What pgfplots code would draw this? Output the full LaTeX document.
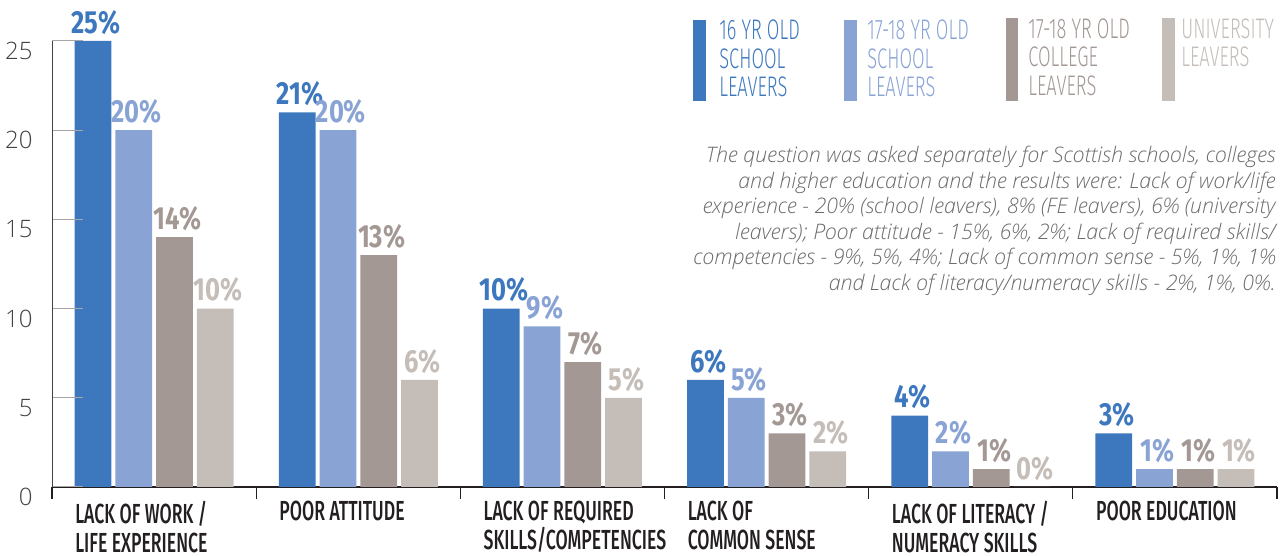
\documentclass[border=0pt]{standalone}
\usepackage{pgfplots}
\pgfplotsset{compat=1.18}
\usepackage{fontspec}
\setmainfont{Fira Sans}

\definecolor{cA}{HTML}{3D78BE}
\definecolor{cB}{HTML}{88A3D4}
\definecolor{cC}{HTML}{A39894}
\definecolor{cD}{HTML}{C4BDB8}
\definecolor{ink}{HTML}{231F20}
\definecolor{notegray}{HTML}{6B6B6B}

\IfFontExistsTF{Fira Sans Medium}
  {\newfontfamily\catfont{Fira Sans Medium}[FakeStretch=0.64]}
  {\newfontfamily\catfont{Fira Sans}[FakeStretch=0.64]}
\newfontfamily\valfamily{Fira Sans}[FakeStretch=0.8]
\newcommand\valfont{\valfamily\bfseries}
\IfFontExistsTF{Fira Sans Light}
  {\newfontfamily\legfont{Fira Sans Light}[FakeStretch=0.645]}
  {\newfontfamily\legfont{Fira Sans}[FakeStretch=0.645]}
\IfFontExistsTF{Open Sans Light}
  {\newfontfamily\tickfont{Open Sans Light}}
  {\newfontfamily\tickfont{Open Sans}}
\IfFontExistsTF{Open Sans Light Italic}
  {\newfontfamily\notefamily{Open Sans Light Italic}\newcommand\notefont{\notefamily}}
  {\newfontfamily\notefamily{Open Sans}\newcommand\notefont{\notefamily\itshape}}

\pgfplotsset{
  common/.style={
    at={(26pt,34.5pt)}, anchor=south west,
    scale only axis, width=612.5pt, height=223pt,
    xmin=-0.5, xmax=5.5, ymin=0, ymax=25,
    clip=false,
    axis lines=left,
    axis line style={-},
    tick align=inside,
    /pgf/number format/assume math mode=true,
  }
}

\begin{document}
\begin{tikzpicture}
\useasboundingbox (0,0) rectangle (643pt,278pt);
% main axis: bars, category labels, group separators
\begin{axis}[
  common,
  x axis line style={draw=ink, line width=0.75pt},
  y axis line style={draw=none},
  ybar, bar width=0.18,
  xtick={0,...,5},
  xticklabels={{LACK OF WORK /\\LIFE EXPERIENCE}, {POOR ATTITUDE}, {LACK OF REQUIRED\\SKILLS/COMPETENCIES}, {LACK OF\\COMMON SENSE}, {LACK OF LITERACY /\\NUMERACY SKILLS}, {POOR EDUCATION}},
  minor xtick={-0.5,0.5,...,5.5},
  major tick length=0pt,
  minor tick length=6pt,
  xtick style={draw=ink, line width=0.65pt},
  ytick=\empty,
  xticklabel style={font=\catfont\fontsize{13.8}{14.3}\selectfont, text=ink, anchor=north west, align=left, inner sep=0pt, xshift=-39.6pt, yshift=-6.8pt},
  nodes near coords={\pgfmathprintnumber{\pgfplotspointmeta}\%},
  nodes near coords style={font=\valfont\fontsize{16}{16}\selectfont, anchor=south, inner sep=0pt, xshift=1.5pt, yshift=3pt},
]
\addplot[fill=cA, draw=none, bar shift=-0.2994, nodes near coords style={text=cA}]
  coordinates {(0,25) (1,21) (2,10) (3,6) (4,4) (5,3)};
\addplot[fill=cB, draw=none, bar shift=-0.0998, nodes near coords style={text=cB}]
  coordinates {(0,20) (1,20) (2,9) (3,5) (4,2) (5,1)};
\addplot[fill=cC, draw=none, bar shift=0.0998, nodes near coords style={text=cC}]
  coordinates {(0,14) (1,13) (2,7) (3,3) (4,1) (5,1)};
\addplot[fill=cD, draw=none, bar shift=0.2994, nodes near coords style={text=cD}]
  coordinates {(0,10) (1,6) (2,5) (3,2) (4,0) (5,1)};
\end{axis}
% overlay axis: y axis line, short grey y ticks and labels
\begin{axis}[
  common,
  x axis line style={draw=none},
  y axis line style={draw=ink!85, line width=0.5pt},
  xtick=\empty,
  ytick={0,5,...,25},
  major tick length=15.5pt,
  ytick style={draw=black!35, line width=0.5pt},
  yticklabel style={font=\tickfont\fontsize{12}{12}\selectfont, text=ink!85, anchor=north east, inner sep=0pt, xshift=-9.5pt, yshift=-0.5pt},
]
\end{axis}

% legend
\fill[cA] (346.5pt,227.5pt) rectangle (353pt,268pt);
\fill[cB] (422pt,227.5pt) rectangle (428.5pt,268pt);
\fill[cC] (503pt,227.5pt) rectangle (509pt,269pt);
\fill[cD] (581pt,227.5pt) rectangle (587.5pt,269pt);
\begin{scope}[every node/.style={anchor=base west, inner sep=0pt, font=\legfont\fontsize{14.15}{14.15}\selectfont}]
\node[text=cA] at (359.5pt,258pt) {16 YR OLD};
\node[text=cA] at (359.5pt,243.85pt) {SCHOOL};
\node[text=cA] at (359.5pt,229.65pt) {LEAVERS};
\node[text=cB] at (433.5pt,258pt) {17-18 YR OLD};
\node[text=cB] at (433.5pt,243.85pt) {SCHOOL};
\node[text=cB] at (433.5pt,229.65pt) {LEAVERS};
\node[text=cC] at (514pt,258.85pt) {17-18 YR OLD};
\node[text=cC] at (514pt,244.65pt) {COLLEGE};
\node[text=cC] at (514pt,230.15pt) {LEAVERS};
\node[text=cD] at (590.5pt,258.85pt) {UNIVERSITY};
\node[text=cD] at (590.5pt,244.65pt) {LEAVERS};
\end{scope}

% note
\begin{scope}[every node/.style={anchor=base east, inner sep=0pt, text=notegray, font=\notefont\fontsize{10.7}{10.7}\selectfont}]
\node at (638pt,196.5pt) {The question was asked separately for Scottish schools, colleges};
\node at (638pt,183.75pt) {and higher education and the results were: Lack of work/life};
\node at (638pt,171pt) {experience - 20\% (school leavers), 8\% (FE leavers), 6\% (university};
\node at (638pt,158.25pt) {leavers); Poor attitude - 15\%, 6\%, 2\%; Lack of required skills/};
\node at (638pt,145.5pt) {competencies - 9\%, 5\%, 4\%; Lack of common sense - 5\%, 1\%, 1\%};
\node at (638pt,132.75pt) {and Lack of literacy/numeracy skills - 2\%, 1\%, 0\%.};
\end{scope}
\end{tikzpicture}
\end{document}
